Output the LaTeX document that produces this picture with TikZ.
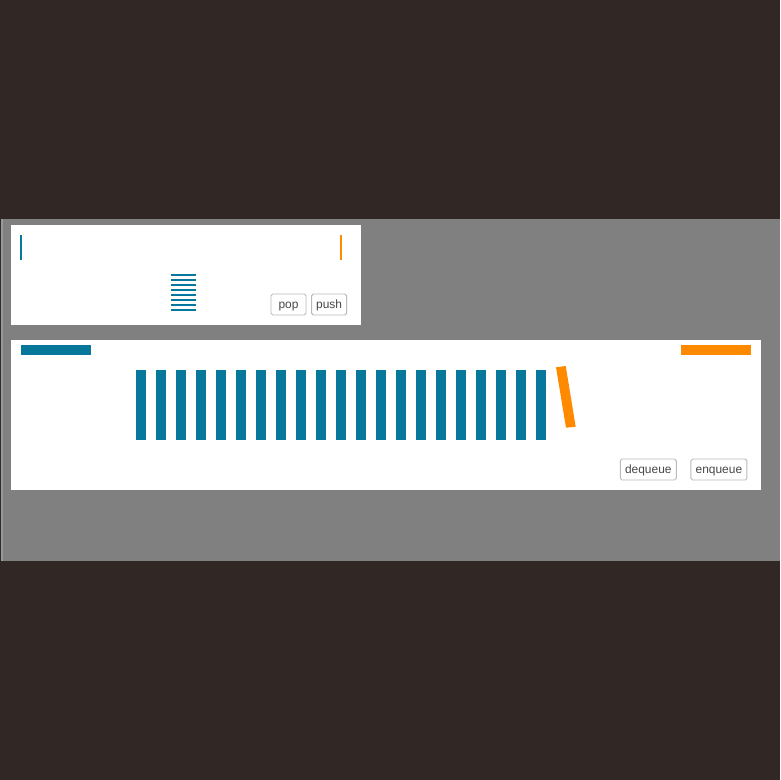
\documentclass[tikz,border=0pt]{standalone}
\usepackage{fontspec}
\setmainfont{Liberation Sans}
\usepackage{tikz}
\usetikzlibrary{positioning}
\usepackage{xcolor}
\definecolor{backdrop}{HTML}{312826}
\definecolor{panelgrey}{HTML}{808080}
\definecolor{teal}{HTML}{07789B}
\definecolor{accent}{HTML}{FF8A00}

\begin{document}
\begin{tikzpicture}[
  x=0.03cm, y=-0.03cm,
  card/.style={fill=white},
  btn/.style={rectangle, draw=black!27, line width=0.8pt, fill=white, rounded corners=1.5pt, minimum height=0.63cm, inner sep=0pt, text height=1.5ex, text depth=0.1ex, font=\fontsize{10.2}{11}\selectfont, text=black!72},
  slab/.style={fill=teal},
  rung/.style={draw=teal, line width=1.7pt}
]
  \useasboundingbox (0,0) rectangle (780,780);
  \fill[backdrop] (0,0) rectangle (780,780);
  % Grey area
  \fill[panelgrey] (2.7,218.5) rectangle (780,561);
  \fill[black!40] (1,218.5) rectangle (2.7,561);
  % Stack card
  \fill[card] (11,225) rectangle (361,324.5);
  \fill[teal] (20,235) rectangle (22,260);
  \fill[accent] (340,235) rectangle (342,260);
  \draw[rung] (171,274.5) -- (196,274.5);
  \draw[rung] (171,279.5) -- (196,279.5);
  \draw[rung] (171,284.5) -- (196,284.5);
  \draw[rung] (171,289.5) -- (196,289.5);
  \draw[rung] (171,294.5) -- (196,294.5);
  \draw[rung] (171,299.5) -- (196,299.5);
  \draw[rung] (171,304.5) -- (196,304.5);
  \draw[rung] (171,309.5) -- (196,309.5);
  \node[btn, minimum width=1.05cm] (pop) at (288.5,304.5) {pop};
  \node[btn, minimum width=1.05cm, right=0.14cm of pop] (push) {push};
  % Queue card
  \fill[card] (11,340) rectangle (761,490);
  \fill[teal] (21,345) rectangle (91,355);
  \fill[accent] (681,345) rectangle (751,355);
  \fill[slab] (136,370) rectangle +(10,70);
  \fill[slab] (156,370) rectangle +(10,70);
  \fill[slab] (176,370) rectangle +(10,70);
  \fill[slab] (196,370) rectangle +(10,70);
  \fill[slab] (216,370) rectangle +(10,70);
  \fill[slab] (236,370) rectangle +(10,70);
  \fill[slab] (256,370) rectangle +(10,70);
  \fill[slab] (276,370) rectangle +(10,70);
  \fill[slab] (296,370) rectangle +(10,70);
  \fill[slab] (316,370) rectangle +(10,70);
  \fill[slab] (336,370) rectangle +(10,70);
  \fill[slab] (356,370) rectangle +(10,70);
  \fill[slab] (376,370) rectangle +(10,70);
  \fill[slab] (396,370) rectangle +(10,70);
  \fill[slab] (416,370) rectangle +(10,70);
  \fill[slab] (436,370) rectangle +(10,70);
  \fill[slab] (456,370) rectangle +(10,70);
  \fill[slab] (476,370) rectangle +(10,70);
  \fill[slab] (496,370) rectangle +(10,70);
  \fill[slab] (516,370) rectangle +(10,70);
  \fill[slab] (536,370) rectangle +(10,70);
  % Incoming item
  \fill[accent] (556,367.3) -- (565.7,366) -- (575.7,426.7) -- (566,427.7) -- cycle;
  \node[btn, minimum width=1.68cm] (dequeue) at (648.3,469.5) {dequeue};
  \node[btn, minimum width=1.68cm, right=0.41cm of dequeue] (enqueue) {enqueue};
\end{tikzpicture}
\end{document}
